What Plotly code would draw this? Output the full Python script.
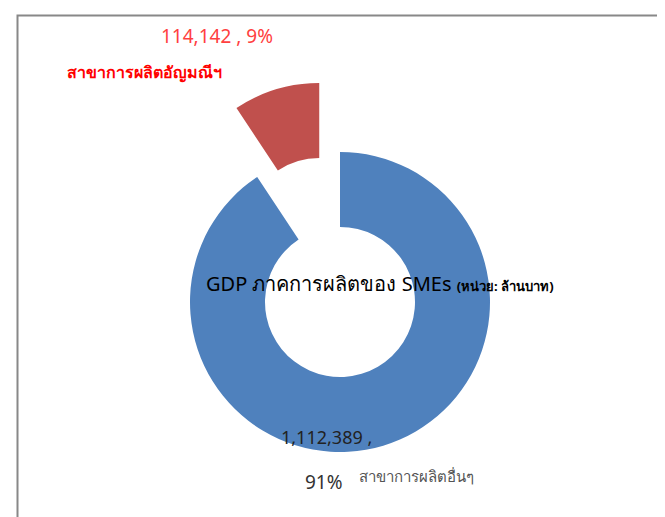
import plotly.graph_objects as go

W, H = 665, 517

labels = ["สาขาการผลิตอื่นๆ", "สาขาการผลิตอัญมณีฯ"]
values = [1112389, 114142]
colors = ["#4F81BD", "#C0504D"]
pulls = [0.0, 0.48]
title_main = "GDP ภาคการผลิตของ SMEs"
title_unit = "(หน่วย: ล้านบาท)"

total = sum(values)
pcts = [round(v / total * 100) for v in values]

# pie geometry (pixels) -> domain
cx, cy, r = 332, 294, 150
box = r * (2 + 2 * max(pulls))
dom_x = [(cx - box / 2) / W, (cx + box / 2) / W]
dom_y = [1 - (cy + box / 2) / H, 1 - (cy - box / 2) / H]
dom_y = [max(0, dom_y[0]), min(1, dom_y[1])]

fig = go.Figure(go.Pie(
    labels=labels,
    values=values,
    marker=dict(colors=colors, line=dict(width=0)),
    pull=pulls,
    hole=0.5,
    sort=False,
    direction="clockwise",
    rotation=0,
    textinfo="none",
    showlegend=False,
    domain=dict(x=dom_x, y=dom_y),
))

def px(x, y):
    return x / W, 1 - y / H

FONT = "Noto Sans, sans-serif"
ann = []
x, y = px(209, 28)
ann.append(dict(x=x, y=y, text=f"{values[1]:,} , {pcts[1]}%",
                font=dict(size=19, color="#FF4040", family=FONT)))
x, y = px(136, 64)
ann.append(dict(x=x, y=y, text=f"<b>{labels[1]}</b>",
                font=dict(size=16, color="#FF0000", family=FONT)))
x, y = px(372, 275)
ann.append(dict(x=x, y=y,
                text=f"{title_main} <span style='font-size:13px'><b>{title_unit}</b></span>",
                font=dict(size=20, color="#000000", family=FONT)))
x, y = px(318, 429)
ann.append(dict(x=x, y=y, text=f"{values[0]:,} ,",
                font=dict(size=18, color="#222222", family=FONT)))
x, y = px(316, 474)
ann.append(dict(x=x, y=y, text=f"{pcts[0]}%",
                font=dict(size=19, color="#333333", family=FONT)))
x, y = px(408, 468)
ann.append(dict(x=x, y=y, text=labels[0],
                font=dict(size=15, color="#555555", family=FONT)))
for a in ann:
    a.update(xref="paper", yref="paper", showarrow=False,
             xanchor="center", yanchor="middle")

fig.update_layout(
    width=W, height=H,
    margin=dict(l=0, r=0, t=0, b=0),
    paper_bgcolor="white",
    plot_bgcolor="white",
    annotations=ann,
    shapes=[dict(type="rect", xref="paper", yref="paper",
                 x0=9.5 / W, x1=656.5 / W, y0=-0.2, y1=1 - 7.5 / H,
                 line=dict(color="#888888", width=2), fillcolor="rgba(0,0,0,0)",
                 layer="below")],
)

fig.write_html("out.html")
